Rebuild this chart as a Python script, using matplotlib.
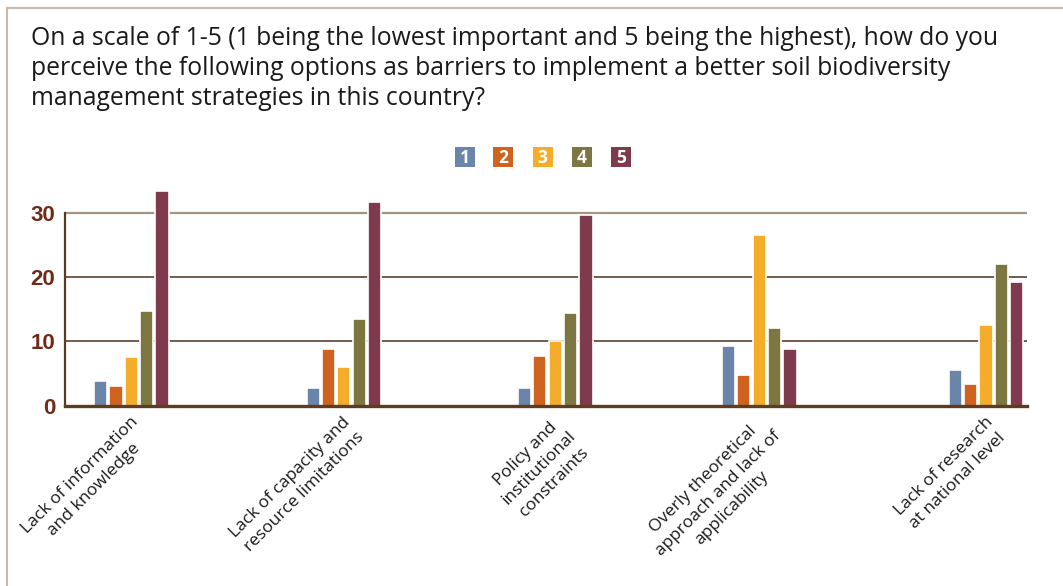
import numpy as np
import matplotlib
matplotlib.use("Agg")
import matplotlib.pyplot as plt
from matplotlib.patches import Rectangle
from matplotlib.lines import Line2D

plt.rcParams['font.family'] = ['Open Sans', 'DejaVu Sans']

# data
categories = [
    "Lack of information\nand knowledge",
    "Lack of capacity and\nresource limitations",
    "Policy and\ninstitutional\nconstraints",
    "Overly theoretical\napproach and lack of\napplicability",
    "Lack of research\nat national level",
]
series_names = ["1", "2", "3", "4", "5"]
score1 = [3.9, 2.7, 2.7, 9.3, 5.5]
score2 = [3.0, 8.8, 7.7, 4.8, 3.4]
score3 = [7.6, 6.0, 10.1, 26.5, 12.6]
score4 = [14.7, 13.5, 14.4, 12.1, 22.0]
score5 = [33.4, 31.6, 29.6, 8.8, 19.2]
yticks = [0, 10, 20, 30]
title_lines = [
    "On a scale of 1-5 (1 being the lowest important and 5 being the highest), how do you",
    "perceive the following options as barriers to implement a better soil biodiversity",
    "management strategies in this country?",
]

colors = ["#6a84aa", "#d0621f", "#f4ad2a", "#7c7741", "#803a4d"]
group_pos = np.array([0, 1, 1.995, 2.955, 4.022])

W, H = 1063, 586
fig = plt.figure(figsize=(W / 100, H / 100), dpi=100)
fig.patch.set_facecolor("white")

# axes placement in pixels
ax_left, ax_right = 65, 1027
zero_y, px_per_unit = 405.6, 6.43
ymax = 34
ax = fig.add_axes([ax_left / W, (H - zero_y) / H, (ax_right - ax_left) / W,
                   ymax * px_per_unit / H])

pitch = 0.0722
bw = 0.062
series = [score1, score2, score3, score4, score5]
for i, vals in enumerate(series):
    ax.bar(group_pos + (i - 2) * pitch, vals, bw, color=colors[i],
           edgecolor="white", linewidth=1.2, zorder=3)

ax.set_xlim(-0.312, 4.215)
ax.set_ylim(0, ymax)

# gridlines
for yv in yticks[1:]:
    col = "#a59483" if yv == 30 else "#5a4030"
    lw = 1.6 if yv == 30 else 1.2
    ax.axhline(yv, color=col, linewidth=lw, zorder=1)

for s in ["top", "right"]:
    ax.spines[s].set_visible(False)
ax.spines["left"].set_bounds(0, 30)
ax.spines["left"].set_color("#5a3a22")
ax.spines["left"].set_linewidth(1.6)
ax.spines["bottom"].set_color("#5e3c20")
ax.spines["bottom"].set_linewidth(2.4)
ax.spines["bottom"].set_zorder(4)

ax.set_yticks(yticks)
ax.set_yticklabels([str(v) for v in yticks], fontsize=16, fontweight="bold",
                   color="#6e2b17", family=["Liberation Sans", "DejaVu Sans"])
ax.tick_params(axis="y", length=0, pad=7)
ax.set_xticks([])

# category labels
for x, lab in zip(group_pos, categories):
    ax.annotate(lab, xy=(x, 0), xycoords="data", xytext=(-1, -6),
                textcoords="offset points", rotation=45,
                rotation_mode="anchor", ha="right", va="top",
                multialignment="center", fontsize=12.5, color="#1a1a1a",
                linespacing=1.35)

# title, one baseline per line
for k, line in enumerate(title_lines):
    fig.text(31 / W, 1 - (45 + 30 * k) / H, line, fontsize=17.8, color="#1a1a1a",
             ha="left", va="baseline")

# legend squares
leg_x = [465, 503.3, 542.7, 581.7, 620.7]
leg_y = 156.7
for cx, name, c in zip(leg_x, series_names, colors):
    fig.patches.append(Rectangle(((cx - 10) / W, 1 - (leg_y + 10) / H), 20 / W, 20 / H,
                                 transform=fig.transFigure, facecolor=c,
                                 edgecolor="none"))
    fig.text(cx / W, 1 - (leg_y + 1) / H, name, fontsize=12.5, fontweight="bold",
             color="white", ha="center", va="center")

# frame
fcol = "#c8b9aa"
fig.lines.append(Line2D([6.5 / W, 6.5 / W], [0, 1 - 8 / H], transform=fig.transFigure,
                        color=fcol, linewidth=1.5))
fig.lines.append(Line2D([6.5 / W, 1], [1 - 8 / H, 1 - 8 / H], transform=fig.transFigure,
                        color=fcol, linewidth=1.5))

fig.savefig("out.png", dpi=100)
